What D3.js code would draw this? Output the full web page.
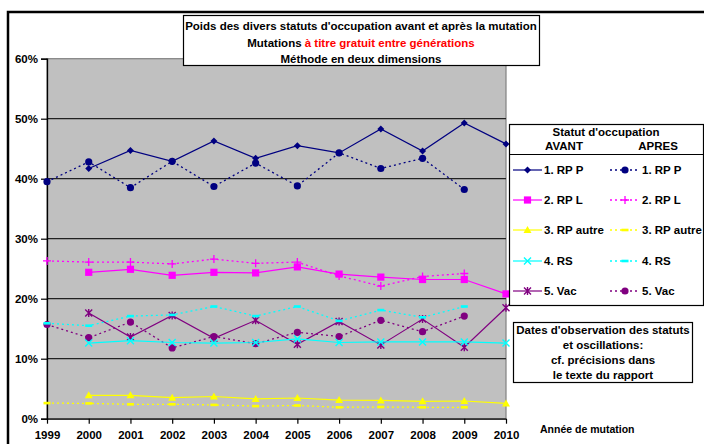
<!DOCTYPE html>
<html><head><meta charset="utf-8">
<script src="https://cdn.jsdelivr.net/npm/d3@7"></script>
<style>body{margin:0;background:#fff}svg{display:block;font-family:"Liberation Sans",Arial,sans-serif;font-weight:bold}</style>
</head><body><svg id="c" width="704" height="444"></svg>
<script>
const years = [1999,2000,2001,2002,2003,2004,2005,2006,2007,2008,2009,2010];
const yTicks = [0,10,20,30,40,50,60];
const seriesNames = ["1. RP P","2. RP L","3. RP autre","4. RS","5. Vac"];
const seriesColors = ["#000080","#FF00FF","#FFFF00","#00FFFF","#800080"];
// AVANT: 2000-2010 ; APRES: 1999-2009
const avantYears = [2000,2001,2002,2003,2004,2005,2006,2007,2008,2009,2010];
const apresYears = [1999,2000,2001,2002,2003,2004,2005,2006,2007,2008,2009];
const rpP_avant = [41.7,44.7,42.9,46.3,43.4,45.5,44.3,48.3,44.6,49.3,45.8];
const rpP_apres = [39.5,42.8,38.5,42.9,38.7,42.6,38.8,44.3,41.7,43.4,38.2];
const rpL_avant = [24.4,24.9,23.9,24.4,24.3,25.3,24.1,23.6,23.2,23.2,20.8];
const rpL_apres = [26.3,26.1,26.1,25.8,26.6,25.9,26.1,23.8,22.1,23.7,24.2];
const rpA_avant = [3.9,3.9,3.5,3.7,3.3,3.45,3.1,3.05,2.9,2.95,2.55];
const rpA_apres = [2.6,2.55,2.4,2.4,2.3,2.1,2.2,1.9,1.95,1.9,1.9];
const rs_avant = [12.6,13.0,12.7,12.6,12.7,13.3,12.7,12.8,12.8,12.8,12.6];
const rs_apres = [15.9,15.5,17.1,17.3,18.7,17.1,18.7,16.3,18.1,16.9,18.7];
const vac_avant = [17.6,13.6,17.2,13.4,16.4,12.4,16.2,12.3,16.6,11.9,18.5];
const vac_apres = [15.7,13.5,16.1,11.8,13.7,12.5,14.4,13.7,16.4,14.5,17.1];

const avantVals = [rpP_avant,rpL_avant,rpA_avant,rs_avant,vac_avant];
const apresVals = [rpP_apres,rpL_apres,rpA_apres,rs_apres,vac_apres];
const avantMarks = ["diamond","square","triangle","cross","star"];
const apresMarks = ["circle","plus","dash","dash","circle"];

const svg = d3.select("#c");
// outer frame
svg.append("rect").attr("x",8).attr("y",12).attr("width",720).attr("height",460)
  .attr("fill","#fff").attr("stroke","#000").attr("stroke-width",2.5);

const x = d3.scalePoint().domain(years).range([47,506]);
const y = d3.scaleLinear().domain([0,60]).range([418.7,58.7]);

svg.append("rect").attr("x",47).attr("y",y(60)).attr("width",506-47).attr("height",y(0)-y(60))
  .attr("fill","#C0C0C0").attr("stroke","#808080").attr("stroke-width",1.2);
// gridlines
svg.append("g").selectAll("line").data(yTicks.filter(t=>t>0&&t<60)).join("line")
  .attr("x1",47).attr("x2",506).attr("y1",d=>y(d)).attr("y2",d=>y(d))
  .attr("stroke","#222").attr("stroke-width",1.2);

// axes
const yAxis = svg.append("g").attr("transform","translate(47,0)")
  .call(d3.axisLeft(y).tickValues(yTicks).tickFormat(d=>d+"%").tickSize(6).tickPadding(3));
const xAxis = svg.append("g").attr("transform",`translate(0,${y(0)})`)
  .call(d3.axisBottom(x).tickSize(5).tickPadding(7));
[yAxis,xAxis].forEach(a=>{
  a.select(".domain").attr("stroke","#000").attr("stroke-width",1.3);
  a.selectAll(".tick line").attr("stroke","#000").attr("stroke-width",1.2);
  a.selectAll("text").attr("font-family","Liberation Sans, Arial").attr("font-weight","bold")
   .attr("font-size",11.5).attr("fill","#000");
});
xAxis.select(".domain").attr("d",`M47,0.5H506`);

function marker(g, type, cx, cy, color, s) {
  s = s || 1;
  if (type==="diamond") g.append("path").attr("d",`M${cx},${cy-3.5*s}L${cx+3.5*s},${cy}L${cx},${cy+3.5*s}L${cx-3.5*s},${cy}Z`).attr("fill",color);
  else if (type==="circle") g.append("circle").attr("cx",cx).attr("cy",cy).attr("r",3.6*s).attr("fill",color);
  else if (type==="square") g.append("rect").attr("x",cx-3.6*s).attr("y",cy-3.6*s).attr("width",7.2*s).attr("height",7.2*s).attr("fill",color);
  else if (type==="triangle") g.append("path").attr("d",`M${cx},${cy-4*s}L${cx+4*s},${cy+3*s}L${cx-4*s},${cy+3*s}Z`).attr("fill",color);
  else if (type==="plus") g.append("path").attr("d",`M${cx-4*s},${cy}H${cx+4*s}M${cx},${cy-4*s}V${cy+4*s}`).attr("stroke",color).attr("stroke-width",1.3);
  else if (type==="dash") g.append("rect").attr("x",cx-3.5*s).attr("y",cy-1.3).attr("width",7*s).attr("height",2.6).attr("fill",color);
  else if (type==="cross") g.append("path").attr("d",`M${cx-3.5*s},${cy-3.5*s}L${cx+3.5*s},${cy+3.5*s}M${cx+3.5*s},${cy-3.5*s}L${cx-3.5*s},${cy+3.5*s}`).attr("stroke",color).attr("stroke-width",1.4);
  else if (type==="star") g.append("path").attr("d",`M${cx-3.5*s},${cy-3.5*s}L${cx+3.5*s},${cy+3.5*s}M${cx+3.5*s},${cy-3.5*s}L${cx-3.5*s},${cy+3.5*s}M${cx},${cy-4*s}V${cy+4*s}`).attr("stroke",color).attr("stroke-width",1.4);
}

const line = d3.line().x(d=>x(d[0])).y(d=>y(d[1]));
const plot = svg.append("g");
// draw order: back to front roughly
[4,3,2,1,0].forEach(i=>{
  const col = seriesColors[i];
  const ap = apresYears.map((yr,k)=>[yr,apresVals[i][k]]);
  const av = avantYears.map((yr,k)=>[yr,avantVals[i][k]]);
  plot.append("path").datum(ap).attr("d",line).attr("fill","none").attr("stroke",col)
    .attr("stroke-width",1.3).attr("stroke-dasharray","2,3");
  plot.append("path").datum(av).attr("d",line).attr("fill","none").attr("stroke",col)
    .attr("stroke-width",1.2);
  ap.forEach(d=>marker(plot,apresMarks[i],x(d[0]),y(d[1]),col));
  av.forEach(d=>marker(plot,avantMarks[i],x(d[0]),y(d[1]),col));
});

// title box
svg.append("rect").attr("x",183.5).attr("y",15.5).attr("width",356).attr("height",50)
  .attr("fill","#fff").attr("stroke","#000").attr("stroke-width",1.2);
const tt = svg.append("g").attr("font-size",11.5).attr("text-anchor","middle").attr("fill","#000");
tt.append("text").attr("x",361).attr("y",30).text("Poids des divers statuts d'occupation avant et après la mutation");
const t2 = tt.append("text").attr("x",361).attr("y",47);
t2.append("tspan").text("Mutations ");
t2.append("tspan").attr("fill","#FF0000").text("à titre gratuit entre générations");
tt.append("text").attr("x",361).attr("y",63).text("Méthode en deux dimensions");

// legend
svg.append("rect").attr("x",509.5).attr("y",124.5).attr("width",194).attr("height",181)
  .attr("fill","#fff").attr("stroke","#000").attr("stroke-width",1.2);
svg.append("line").attr("x1",509.5).attr("x2",703.5).attr("y1",154.5).attr("y2",154.5).attr("stroke","#000").attr("stroke-width",1.2);
const lg = svg.append("g").attr("font-size",11.5).attr("fill","#000");
lg.append("text").attr("x",606).attr("y",136).attr("text-anchor","middle").text("Statut d'occupation");
lg.append("text").attr("x",564).attr("y",150).attr("text-anchor","middle").text("AVANT");
lg.append("text").attr("x",658).attr("y",150).attr("text-anchor","middle").text("APRES");
const rowY = [170,200,230,261,291];
seriesNames.forEach((nm,i)=>{
  const col = seriesColors[i], ry = rowY[i];
  lg.append("line").attr("x1",513).attr("x2",542).attr("y1",ry).attr("y2",ry).attr("stroke",col).attr("stroke-width",2).attr("stroke-opacity",0.6);
  marker(lg,avantMarks[i],527.5,ry,col);
  lg.append("text").attr("x",544).attr("y",ry+4).text(nm);
  lg.append("line").attr("x1",610).attr("x2",640).attr("y1",ry).attr("y2",ry).attr("stroke",col).attr("stroke-width",1.3).attr("stroke-dasharray","2,3");
  marker(lg,apresMarks[i],625,ry,col);
  lg.append("text").attr("x",642).attr("y",ry+4).text(nm);
});

// note box
svg.append("rect").attr("x",513.5).attr("y",322.5).attr("width",179).attr("height",60)
  .attr("fill","#fff").attr("stroke","#000").attr("stroke-width",1.2);
const nt = svg.append("g").attr("font-size",11.5).attr("text-anchor","middle").attr("fill","#000");
["Dates d'observation des statuts","et oscillations:","cf. précisions dans","le texte du rapport"]
  .forEach((s,k)=>nt.append("text").attr("x",603).attr("y",334+k*15).text(s));

svg.append("text").attr("x",540).attr("y",433).attr("font-size",10.5).attr("fill","#000").text("Année de mutation");
</script></body></html>
